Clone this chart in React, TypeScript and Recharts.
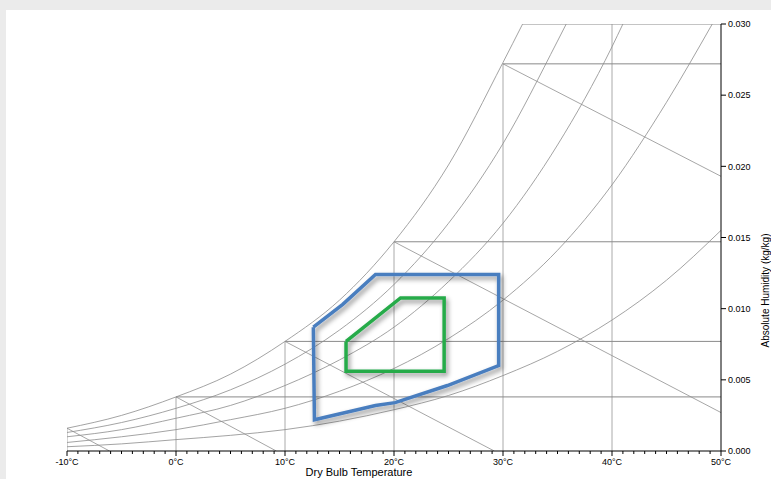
import React from "react";
import { LineChart, Line, XAxis, YAxis, Label } from "recharts";

// dry bulb temperatures (°C) where the humidity curves were read
const tempStops = [-10, -5, 0, 5, 10, 15, 20, 25, 30, 35, 40, 45, 50];

// relative humidity curves, absolute humidity (kg/kg)
const rh100 = [0.0016, 0.0025, 0.0038, 0.0054, 0.0077, 0.0106, 0.0147, 0.0201, 0.0273];
const rh80 = [0.0013, 0.002, 0.003, 0.0043, 0.0061, 0.0085, 0.0117, 0.016, 0.0216, 0.0288];
const rh60 = [0.001, 0.0015, 0.0023, 0.0032, 0.0046, 0.0064, 0.0087, 0.0119, 0.016, 0.0215, 0.0284];
const rh40 = [0.0006, 0.001, 0.0015, 0.0022, 0.003, 0.0042, 0.0058, 0.0079, 0.0106, 0.0141, 0.0187, 0.0245];
const rh20 = [0.0003, 0.0005, 0.0008, 0.0011, 0.0015, 0.0021, 0.0029, 0.0039, 0.0053, 0.007, 0.0092, 0.012, 0.0155];
// where each curve leaves the top of the chart (°C at 0.030)
const topExits = [31.8, 35.8, 41.0, 49.2];

// saturation points that carry the grid lines
const satTemps = [-10, 0, 10, 20, 30];
const satHum = [0.0016, 0.0038, 0.0077, 0.0147, 0.0272];
// far end of the enthalpy lines starting at each saturation point
const enthEndT = [-6.1, 9.2, 29.2, 50, 50];
const enthEndW = [0, 0, 0, 0.0027, 0.0193];

// comfort zones
const blueT = [12.6, 15.3, 18.3, 29.6, 29.6, 24.9, 20.1, 18.3, 12.7, 12.6];
const blueW = [0.0087, 0.0103, 0.0124, 0.0124, 0.006, 0.0046, 0.0034, 0.0032, 0.0022, 0.0087];
const greenT = [15.6, 15.6, 24.6, 24.6, 20.6, 15.6];
const greenW = [0.0077, 0.0056, 0.0056, 0.01075, 0.01075, 0.0077];

const yTicks = [0, 0.005, 0.01, 0.015, 0.02, 0.025, 0.03];
const yTop = 0.03;

type Pt = { t: number; w: number };

const zip = (ts: number[], ws: number[]): Pt[] => ws.map((w, i) => ({ t: ts[i], w }));

const rhCurves: Pt[][] = [
	[...zip(tempStops, rh100), { t: topExits[0], w: yTop }],
	[...zip(tempStops, rh80), { t: topExits[1], w: yTop }],
	[...zip(tempStops, rh60), { t: topExits[2], w: yTop }],
	[...zip(tempStops, rh40), { t: topExits[3], w: yTop }],
	zip(tempStops, rh20),
];

const verticals: Pt[][] = [
	...satTemps.map((t, i) => [{ t, w: 0 }, { t, w: satHum[i] }]),
	[{ t: 40, w: 0 }, { t: 40, w: yTop }],
];
const horizontals: Pt[][] = [
	...satTemps.slice(1).map((t, i) => [{ t, w: satHum[i + 1] }, { t: 50, w: satHum[i + 1] }]),
	[{ t: topExits[0], w: yTop }, { t: 50, w: yTop }],
];
const enthalpy: Pt[][] = satTemps.map((t, i) => [
	{ t, w: satHum[i] },
	{ t: enthEndT[i], w: enthEndW[i] },
]);

// one tick per degree, labelled every 10
const minorTicks = Array.from({ length: 61 }, (_, i) => i - 10);

const font = "'Liberation Sans', Arial, sans-serif";

const TempTick = (props: any) => {
	const { x, y, payload } = props;
	const major = payload.value % 10 === 0;
	return (
		<g>
			<line x1={x} x2={x} y1={y} y2={y + (major ? 5 : 3)} stroke="#000" strokeWidth={1} />
			{major && (
				<text x={x} y={y + 14} textAnchor="middle" fontSize={9} fontFamily={font} fill="#000">
					{payload.value}°C
				</text>
			)}
		</g>
	);
};

const thin = (data: Pt[], key: string, color: string, width = 0.8, type: any = "linear") => (
	<Line
		key={key}
		data={data}
		dataKey="w"
		type={type}
		stroke={color}
		strokeWidth={width}
		dot={false}
		activeDot={false}
		isAnimationActive={false}
	/>
);

export default function App() {
	return (
		<div
			style={{
				position: "fixed",
				left: 0,
				top: 0,
				width: 771,
				height: 479,
				background: "#ebebeb",
				overflow: "hidden",
			}}
		>
			<div
				style={{
					position: "absolute",
					left: 6,
					top: 10,
					right: 0,
					bottom: 0,
					background: "#fff",
				}}
			/>
			<div style={{ position: "absolute", left: 0, top: 0 }}>
				<LineChart width={771} height={479} margin={{ top: 24, right: 0, bottom: 0, left: 67 }}>
					<defs>
						<filter id="shadow" x="-20%" y="-20%" width="140%" height="140%">
							<feDropShadow dx="2" dy="3" stdDeviation="2.5" floodColor="#000" floodOpacity="0.45" />
						</filter>
					</defs>
					<XAxis
						dataKey="t"
						type="number"
						domain={[-10, 50]}
						ticks={minorTicks}
						interval={0}
						allowDataOverflow
						height={28}
						tickSize={0}
						tickMargin={0}
						tick={<TempTick />}
						axisLine={{ stroke: "#000", strokeWidth: 1 }}
						tickLine={false}
					>
						<Label
							value="Dry Bulb Temperature"
							position="insideBottom"
							offset={3}
							dx={-35}
							fontSize={11}
							fontFamily={font}
							fill="#000"
						/>
					</XAxis>
					<YAxis
						orientation="right"
						type="number"
						domain={[0, yTop]}
						ticks={yTicks}
						allowDataOverflow
						width={50}
						tickSize={5}
						tickMargin={2}
						tickFormatter={(v: number) => v.toFixed(3)}
						tick={{ fontSize: 9, fontFamily: font, fill: "#000" }}
						axisLine={{ stroke: "#000", strokeWidth: 1 }}
						tickLine={{ stroke: "#000" }}
					>
						<Label
							value="Absolute Humidity (kg/kg)"
							angle={-90}
							position="center"
							dx={19}
							dy={53}
							fontSize={10}
							fontFamily={font}
							fill="#000"
						/>
					</YAxis>
					{verticals.map((d, i) => thin(d, `v${i}`, "#aaaaaa", 1))}
					{horizontals.map((d, i) => thin(d, `h${i}`, "#8a8a8a", 1))}
					{enthalpy.map((d, i) => thin(d, `e${i}`, "#8f8f8f", 0.8))}
					{rhCurves.map((d, i) => thin(d, `rh${i}`, "#8c8c8c", 0.8, "monotone"))}
					<Line
						data={zip(blueT, blueW)}
						dataKey="w"
						type="linear"
						stroke="#4a7ebf"
						strokeWidth={3.5}
						strokeLinejoin="miter"
						dot={false}
						activeDot={false}
						isAnimationActive={false}
						style={{ filter: "url(#shadow)" }}
					/>
					<Line
						data={zip(greenT, greenW)}
						dataKey="w"
						type="linear"
						stroke="#26ab4a"
						strokeWidth={3.5}
						strokeLinejoin="miter"
						dot={false}
						activeDot={false}
						isAnimationActive={false}
						style={{ filter: "url(#shadow)" }}
					/>
				</LineChart>
			</div>
		</div>
	);
}
